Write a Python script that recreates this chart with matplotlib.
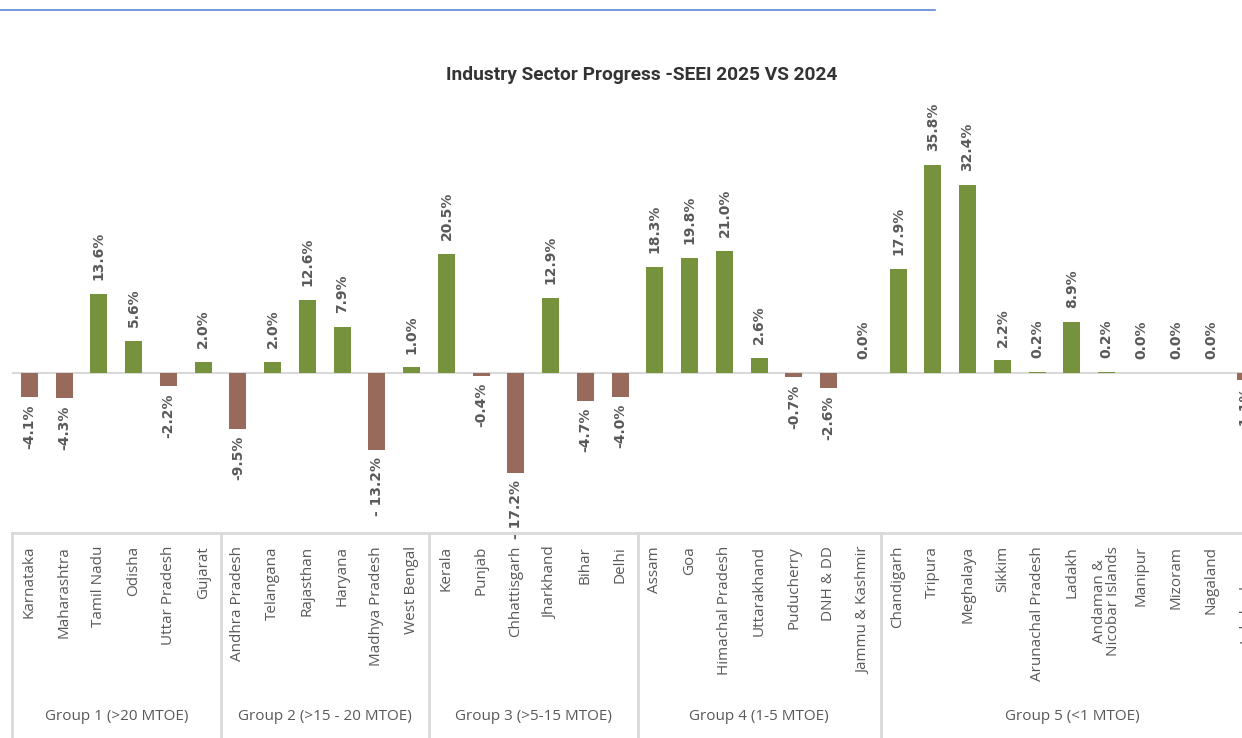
import numpy as np
import matplotlib
matplotlib.use('Agg')
import matplotlib.pyplot as plt

# data
groups = ['Group 1 (>20 MTOE)', 'Group 2 (>15 - 20 MTOE)', 'Group 3 (>5-15 MTOE)',
          'Group 4 (1-5 MTOE)', 'Group 5 (<1 MTOE)']
group_sizes = [6, 6, 6, 7, 11]
states = ['Karnataka', 'Maharashtra', 'Tamil Nadu', 'Odisha', 'Uttar Pradesh', 'Gujarat',
          'Andhra Pradesh', 'Telangana', 'Rajasthan', 'Haryana', 'Madhya Pradesh', 'West Bengal',
          'Kerala', 'Punjab', 'Chhattisgarh', 'Jharkhand', 'Bihar', 'Delhi',
          'Assam', 'Goa', 'Himachal Pradesh', 'Uttarakhand', 'Puducherry', 'DNH & DD',
          'Jammu & Kashmir',
          'Chandigarh', 'Tripura', 'Meghalaya', 'Sikkim', 'Arunachal Pradesh', 'Ladakh',
          'Andaman &\nNicobar Islands', 'Manipur', 'Mizoram', 'Nagaland', 'Lakshadweep']
change = [-4.1, -4.3, 13.6, 5.6, -2.2, 2.0,
          -9.5, 2.0, 12.6, 7.9, -13.2, 1.0,
          20.5, -0.4, -17.2, 12.9, -4.7, -4.0,
          18.3, 19.8, 21.0, 2.6, -0.7, -2.6, 0.0,
          17.9, 35.8, 32.4, 2.2, 0.2, 8.9, 0.2, 0.0, 0.0, 0.0, -1.1]
labels = ['-4.1%', '-4.3%', '13.6%', '5.6%', '-2.2%', '2.0%',
          '-9.5%', '2.0%', '12.6%', '7.9%', '- 13.2%', '1.0%',
          '20.5%', '-0.4%', '- 17.2%', '12.9%', '-4.7%', '-4.0%',
          '18.3%', '19.8%', '21.0%', '2.6%', '-0.7%', '-2.6%', '0.0%',
          '17.9%', '35.8%', '32.4%', '2.2%', '0.2%', '8.9%', '0.2%', '0.0%', '0.0%', '0.0%', '-1.1%']

green = '#76923C'
brown = '#976A5B'
txtcol = '#595959'
gridcol = '#D9D9D9'

W, H = 1242, 738
fig = plt.figure(figsize=(W/100, H/100), dpi=100)

# plot area (runs past the right edge, the reference is cropped there)
left = 12/W
width = 1251/W
ax = fig.add_axes([left, (H-533)/H, width, 433/H])
x = np.arange(len(states))
cols = [green if v >= 0 else brown for v in change]
ax.bar(x, change, width=0.49, color=cols, zorder=2)
ax.set_xlim(-0.5, len(states)-0.5)
ax.set_ylim(-(533-373.3)/5.82, (373.3-100)/5.82)
ax.axhline(0, color=gridcol, lw=1.5, zorder=1)
ax.set_axis_off()

for xi, v, s in zip(x, change, labels):
    if v >= 0:
        ax.annotate(s, (xi, v), xytext=(0, 10), textcoords='offset points',
                    rotation=90, ha='center', va='bottom', fontsize=10,
                    fontweight='bold', color=txtcol, annotation_clip=False)
    else:
        ax.annotate(s, (xi, v), xytext=(0, -5), textcoords='offset points',
                    rotation=90, ha='center', va='top', fontsize=10,
                    fontweight='bold', color=txtcol, annotation_clip=False)

# category box below the plot
ax2 = fig.add_axes([left, 0, width, (H-533)/H])
ax2.set_xlim(-0.5, len(states)-0.5)
ax2.set_ylim(0, 205)
ax2.set_axis_off()
ax2.axhline(205, color=gridcol, lw=2, clip_on=False)
bounds = np.concatenate([[0], np.cumsum(group_sizes)]) - 0.5
for b in bounds[:-1]:
    ax2.axvline(b, color=gridcol, lw=2, clip_on=False)
for xi, s in zip(x, states):
    ax2.text(xi, 192, s, rotation=90, ha='center', va='top', fontsize=11,
             family='Open Sans', color=txtcol, linespacing=0.85)
for i, g in enumerate(groups):
    ax2.text((bounds[i]+bounds[i+1])/2, 21, g, ha='center', va='center',
             fontsize=11, family='Open Sans', color=txtcol)

# title and the blue rule on top
fig.text(642/W, 1-75/H, 'Industry Sector Progress -SEEI 2025 VS 2024', ha='center',
         va='center', fontsize=13.8, fontweight='bold', family='Roboto', color='#333333')
fig.add_artist(plt.Line2D([0, 935/W], [1-10/H, 1-10/H], color='#5B86D6', lw=1.2))

fig.savefig('out.png', dpi=100)
